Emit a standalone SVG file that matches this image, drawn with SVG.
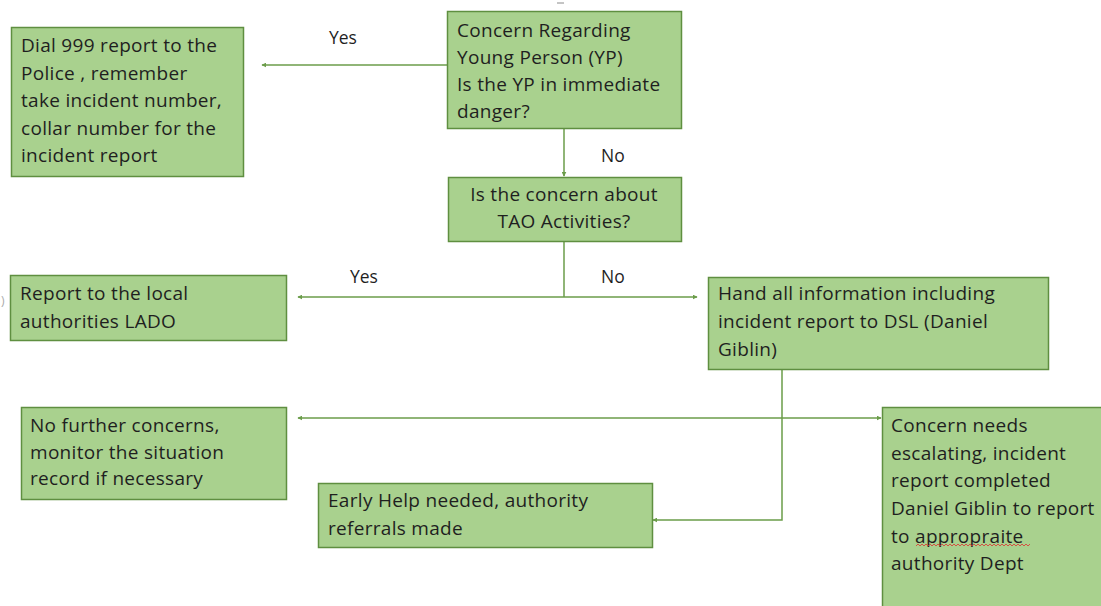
<svg xmlns="http://www.w3.org/2000/svg" width="1101" height="606" viewBox="0 0 1101 606">
  <style>
    .box { fill: #a9d18e; stroke: #5f8f40; stroke-width: 1.5; }
    .t { font-family: "Open Sans", "Noto Sans", sans-serif; font-size: 19px; letter-spacing: 0.3px; fill: #1f1f1f; }
    .lbl { font-family: "Open Sans", "Noto Sans", sans-serif; font-size: 17.5px; fill: #1f1f1f; }
    .c { text-anchor: middle; }
    .conn { fill: none; stroke: #6b9d4a; stroke-width: 1.5; }
  </style>
  <defs>
    <marker id="ah" viewBox="0 0 8 8" refX="7" refY="4" markerWidth="5" markerHeight="5" orient="auto-start-reverse" markerUnits="userSpaceOnUse">
      <path d="M0,0 L8,4 L0,8 z" fill="#6b9d4a"/>
    </marker>
  </defs>
  <rect width="1101" height="606" fill="#ffffff"/>
  <line x1="557" y1="3" x2="564" y2="3" stroke="#8a8a8a" stroke-width="1"/>
  <text x="1" y="305" style="font-family:'Open Sans',sans-serif;font-size:12px;fill:#aaaaaa">)</text>

  <g id="connectors">
    <line class="conn" x1="447" y1="65" x2="262" y2="65" marker-end="url(#ah)"/>
    <line class="conn" x1="564" y1="129" x2="564" y2="176" marker-end="url(#ah)"/>
    <line class="conn" x1="564" y1="242" x2="564" y2="297"/>
    <line class="conn" x1="298" y1="297" x2="697" y2="297" marker-start="url(#ah)" marker-end="url(#ah)"/>
    <polyline class="conn" points="782,370 782,520 653,520" marker-end="url(#ah)"/>
    <line class="conn" x1="298" y1="418" x2="881" y2="418" marker-start="url(#ah)" marker-end="url(#ah)"/>
    <text class="lbl" x="329" y="44">Yes</text>
    <text class="lbl" x="601" y="162">No</text>
    <text class="lbl" x="350" y="283">Yes</text>
    <text class="lbl" x="601" y="283">No</text>
  </g>

  <g id="start">
    <rect class="box" x="447.5" y="11.5" width="234" height="117"/>
    <text class="t" x="457" y="37">Concern Regarding</text>
    <text class="t" x="457" y="64">Young Person (YP)</text>
    <text class="t" x="457" y="91">Is the YP in immediate</text>
    <text class="t" x="457" y="118">danger?</text>
  </g>

  <g id="dial999">
    <rect class="box" x="11.5" y="27.5" width="232" height="149"/>
    <text class="t" x="21" y="52">Dial 999 report to the</text>
    <text class="t" x="21" y="80">Police , remember</text>
    <text class="t" x="21" y="107">take incident number,</text>
    <text class="t" x="21" y="135">collar number for the</text>
    <text class="t" x="21" y="162">incident report</text>
  </g>

  <g id="tao">
    <rect class="box" x="448.5" y="177.5" width="233" height="64"/>
    <text class="t c" x="564" y="201">Is the concern about</text>
    <text class="t c" x="564" y="228">TAO Activities?</text>
  </g>

  <g id="lado">
    <rect class="box" x="10.5" y="275.5" width="276" height="65"/>
    <text class="t" x="20" y="300">Report to the local</text>
    <text class="t" x="20" y="328">authorities LADO</text>
  </g>

  <g id="dsl">
    <rect class="box" x="708.5" y="277.5" width="340" height="92"/>
    <text class="t" x="718" y="300">Hand all information including</text>
    <text class="t" x="718" y="328">incident report to DSL (Daniel</text>
    <text class="t" x="718" y="356">Giblin)</text>
  </g>

  <g id="nofurther">
    <rect class="box" x="21.5" y="407.5" width="265" height="92"/>
    <text class="t" x="30" y="432">No further concerns,</text>
    <text class="t" x="30" y="459">monitor the situation</text>
    <text class="t" x="30" y="485">record if necessary</text>
  </g>

  <g id="earlyhelp">
    <rect class="box" x="318.5" y="483.5" width="334" height="64"/>
    <text class="t" x="328" y="507">Early Help needed, authority</text>
    <text class="t" x="328" y="535">referrals made</text>
  </g>

  <g id="escalate">
    <rect class="box" x="882.5" y="407.5" width="230" height="210"/>
    <text class="t" x="891" y="432">Concern needs</text>
    <text class="t" x="891" y="460">escalating, incident</text>
    <text class="t" x="891" y="487">report completed</text>
    <text class="t" x="891" y="515">Daniel Giblin to report</text>
    <text class="t" x="891" y="543">to appropraite</text>
    <text class="t" x="891" y="570">authority Dept</text>
    <path d="M916,546 l2,-2 l2,2 l2,-2 l2,2 l2,-2 l2,2 l2,-2 l2,2 l2,-2 l2,2 l2,-2 l2,2 l2,-2 l2,2 l2,-2 l2,2 l2,-2 l2,2 l2,-2 l2,2 l2,-2 l2,2 l2,-2 l2,2 l2,-2 l2,2 l2,-2 l2,2 l2,-2 l2,2 l2,-2 l2,2 l2,-2 l2,2 l2,-2 l2,2 l2,-2 l2,2 l2,-2 l2,2 l2,-2 l2,2 l2,-2 l2,2 l2,-2 l2,2 l2,-2 l2,2 l2,-2 l2,2 l2,-2 l2,2 l2,-2 l2,2 l2,-2 l2,2 l2,-2" fill="none" stroke="#e03030" stroke-width="0.8"/>
  </g>
</svg>
